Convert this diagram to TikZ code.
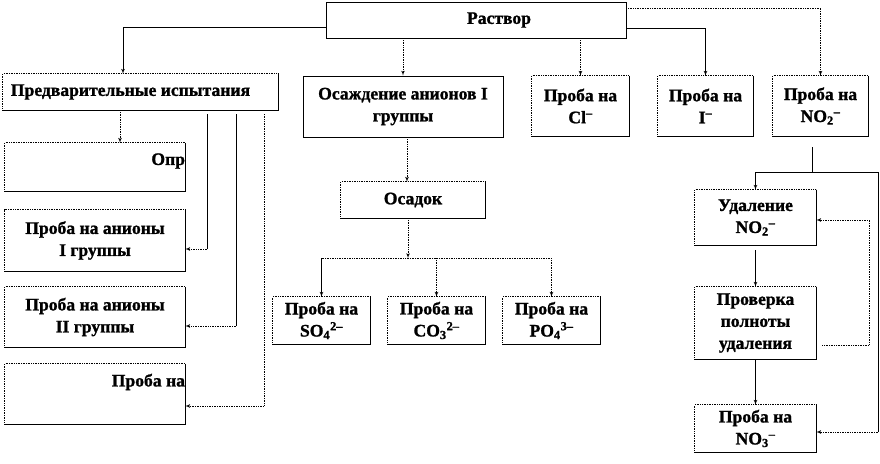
\documentclass[tikz,border=0pt]{standalone}
\usepackage{fontspec}
\setmainfont{Liberation Serif}[BoldFeatures={FakeBold=1.2}]
\usetikzlibrary{arrows}
\tikzset{
    every node/.style={
        font=\fontsize{17.6}{22}\selectfont\bfseries},
    box/.style={
        inner sep=0pt,
        align=center},
    lbox/.style={
        box,
        draw,
        line width=0.7pt},
    link/.style={
        draw,
        ->,>=latex',
        line width=0.7pt},
    dlink/.style={
        link,
        densely dotted}}

\begin{document}
\begin{tikzpicture}[x=1pt,y=-1pt]
        \useasboundingbox (0,0) rectangle (880,463);

        \node[lbox, minimum width=300, minimum height=36] (rastvor) at (476,20) {\hspace*{46pt}Раствор};
        \node[box, minimum width=275, minimum height=36] (pred) at (140.5,92) {Предварительные испытания\hspace*{20pt}};
        \node[lbox, minimum width=200, minimum height=61] (osazh) at (403,106.5) {Осаждение анионов I\\группы};
        \node[box, minimum width=97, minimum height=60] (cl) at (580.5,106) {Проба на\\Cl\textsuperscript{--}};
        \node[box, minimum width=95, minimum height=60] (iod) at (705.5,106) {Проба на\\I\textsuperscript{--}};
        \node[box, minimum width=95, minimum height=60] (no2) at (820.5,106) {Проба на\\NO\textsubscript{2}\textsuperscript{--}};

        \node[box, minimum width=180, minimum height=48] (opr) at (95,167) {};
        \node[box, anchor=east] (oprtext) at ([yshift=6pt]opr.east) {Опр};
        \node[box, minimum width=180, minimum height=61] (an1) at (95,240.5) {Проба на анионы\\I группы};
        \node[box, minimum width=180, minimum height=60] (an2) at (95,317) {Проба на анионы\\II группы};
        \node[box, minimum width=180, minimum height=60] (last) at (95,394) {};
        \node[box, anchor=east] (lasttext) at ([yshift=12pt]last.east) {Проба на};

        \node[box, minimum width=144, minimum height=36] (osadok) at (413,200) {Осадок};
        \node[box, minimum width=97, minimum height=47] (so4) at (321.5,320.5) {Проба на\\SO\textsubscript{4}\textsuperscript{2--}};
        \node[box, minimum width=97, minimum height=47] (co3) at (436.5,320.5) {Проба на\\CO\textsubscript{3}\textsuperscript{2--}};
        \node[box, minimum width=97, minimum height=47] (po4) at (551.5,320.5) {Проба на\\PO\textsubscript{4}\textsuperscript{3--}};

        \node[box, minimum width=121, minimum height=55] (udal) at (755.5,217.5) {Удаление\\NO\textsubscript{2}\textsuperscript{--}};
        \node[box, minimum width=121, minimum height=72] (prov) at (755.5,323) {Проверка\\полноты\\удаления};
        \node[box, minimum width=121, minimum height=47] (no3) at (755.5,428.5) {Проба на\\NO\textsubscript{3}\textsuperscript{--}};

        % borders: dotted top and left, solid bottom and right
        \foreach \n in {pred,cl,iod,no2,opr,an1,an2,last,osadok,so4,co3,po4,udal,prov,no3}{
            \draw[densely dotted, line width=0.7pt] (\n.south west) |- (\n.north east);
            \draw[line width=0.7pt] (\n.north east) |- (\n.south west);
        }

        % from Раствор
        \draw[link] ([yshift=-7pt]rastvor.west) -| ([xshift=-17.5pt]pred.north);
        \draw[dlink] (osazh.north |- rastvor.south) -- (osazh.north);
        \draw[dlink] (cl.north |- rastvor.south) -- (cl.north);
        \draw[link] ([yshift=-8pt]rastvor.east) -| (iod.north);
        \draw[dlink] ([yshift=12pt]rastvor.east) -| (no2.north);

        % preliminary tests
        \coordinate (p0) at ([xshift=-20.5pt]pred.south);
        \draw[dlink] (p0) -- (p0 |- opr.north);
        \coordinate (p1) at (207,114);
        \coordinate (p2) at (236,114);
        \coordinate (p3) at (264,114);
        \coordinate (t1) at ([yshift=-8.5pt]an1.east);
        \coordinate (t2) at ([yshift=-9pt]an2.east);
        \coordinate (t3) at ([yshift=-12pt]last.east);
        \draw[line width=0.7pt] (p1) -- (p1 |- t1);
        \draw[dlink] (p1 |- t1) -- (t1);
        \draw[line width=0.7pt] (p2) -- (p2 |- t2);
        \draw[dlink] (p2 |- t2) -- (t2);
        \draw[dlink] (p3) |- (t3);

        % precipitate
        \draw[dlink] ([xshift=4pt]osazh.south) -- ([xshift=4pt]osazh.south |- osadok.north);
        \coordinate (j) at ([xshift=-5pt,yshift=-40pt]osadok.south);
        \draw[dlink] ([xshift=-5pt]osadok.south) -- (j);
        \draw[densely dotted, line width=0.7pt] (j -| so4.north) -- (j -| po4.north);
        \draw[link] (j -| so4.north) -- (so4.north);
        \draw[dlink] (j -| co3.north) -- (co3.north);
        \draw[dlink] (j -| po4.north) -- (po4.north);

        % nitrite removal
        \coordinate (n1) at ([xshift=-8.5pt,yshift=-11pt]no2.south);
        \coordinate (r1) at (878,172);
        \coordinate (t4) at ([yshift=-3.5pt]no3.east);
        \draw[link] (n1) -- (n1 |- r1) -| (udal.north);
        \draw[line width=0.7pt] (n1 |- r1) -- (r1) -- (r1 |- t4);
        \draw[dlink] (r1 |- t4) -- (t4);
        \draw[link] ([yshift=-5pt]udal.south) -- (prov.north);
        \draw[link] (prov.south) -- (no3.north);
        \draw[dlink] ([xshift=6pt,yshift=-22pt]prov.east) -- ++(47,0) |- ([yshift=-2.5pt]udal.east);
\end{tikzpicture}
\end{document}
